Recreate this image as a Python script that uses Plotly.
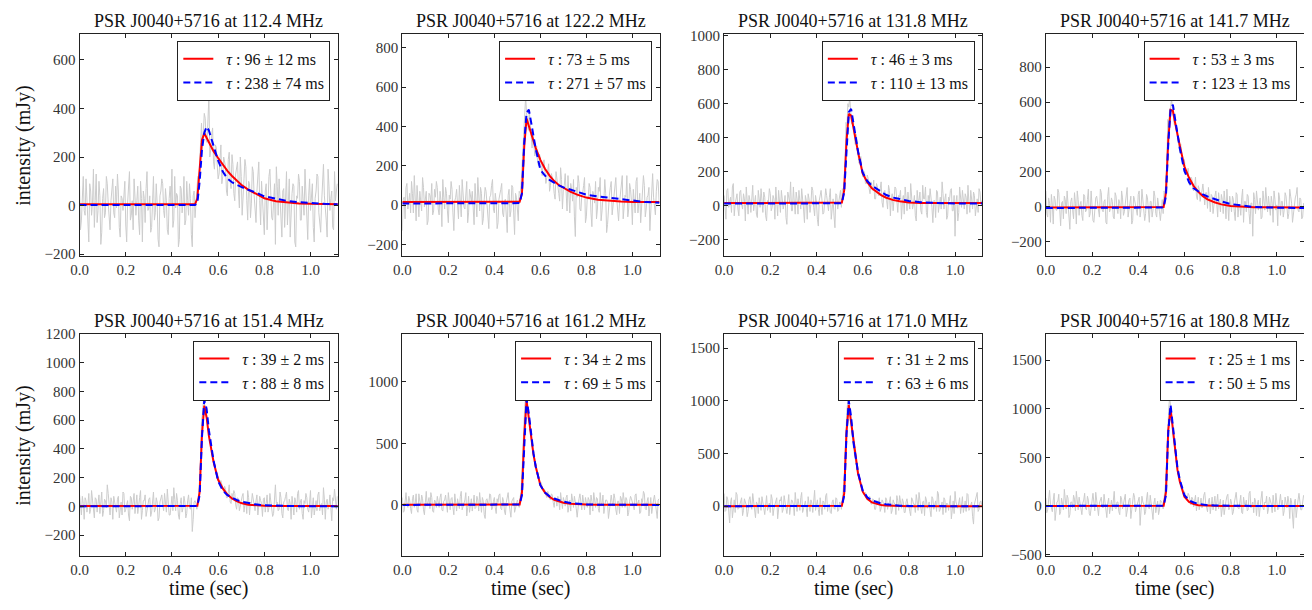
import plotly.graph_objects as go

# The page has an 8 px body margin: the figure is sized/positioned to compensate.
OFF = 8
W, H = 1312 - OFF, 610 - 2 * OFF

# sample grids: observed profiles come as two interleaved halves (a: i*8 ms, b: 4 + i*8 ms)
t_a = [round(i * 0.008, 3) for i in range(140)]
t_b = [round(0.004 + i * 0.008, 3) for i in range(140)]
tm = [0.0, 0.50, 0.51, 0.52, 0.53, 0.54, 0.55, 0.56, 0.57, 0.58, 0.60, 0.62, 0.64,
      0.66, 0.68, 0.70, 0.73, 0.76, 0.80, 0.85, 0.90, 0.95, 1.00, 1.06, 1.118]

freqs = ["112.4", "122.2", "131.8", "141.7", "151.4", "161.2", "171.0", "180.8"]
tau_red = ["96 ± 12", "73 ± 5", "46 ± 3", "53 ± 3", "39 ± 2", "34 ± 2", "31 ± 2", "25 ± 1"]
tau_blue = ["238 ± 74", "271 ± 57", "110 ± 13", "123 ± 13", "88 ± 8", "69 ± 5", "63 ± 6", "50 ± 5"]

data_112_a = [80, -60, 120, -40, 20, -150, 60, 10, -90, 130, -20, 40, -110, 70, -30, 90, -70, 20, 110, -50,
              -10, 60, -130, 30, 80, -80, 10, 140, -40, -100, 50, 20, -60, 100, -150, 30, 70, -20, 40, -90,
              120, -30, 10, -170, 60, 90, -50, 20, -120, 80, 150, -60, -10, 40, -140, 70, 10, -80, 100, -40,
              30, -170, 60, 20, 120, 210, 340, 300, 360, 260, 450, 230, 320, 150, 240, 110, 230, 90, 200, 160,
              40, 220, 70, 170, 20, 150, 60, 200, -40, 110, 160, -60, 90, 10, 140, -30, 60, 180, -80, 40,
              -120, 90, 30, 150, -50, 20, -160, 80, 110, -40, 60, -90, 140, 10, -130, 50, 80, -170, 30, 100,
              -60, 20, 150, -100, 40, -20, 90, -150, 60, 120, -70, 10, 170, -40, -130, 80, 30, -90, 140, 60]
data_112_b = [-100, 50, -20, 110, -130, 90, -40, 150, 20, -70, 100, -160, 30, -50, 120, 10, -100, 60, -30, 80,
              130, -90, 40, -20, 100, -150, 70, -60, 20, 110, -40, 80, -120, 30, 60, -70, 140, -10, -110, 50,
              -60, 90, -140, 40, 110, -20, 70, -100, 30, 10, -90, 120, 50, -170, 80, -30, 120, -60, 20, 90,
              -120, 40, -50, 90, 80, 260, 230, 380, 270, 330, 200, 290, 180, 250, 170, 130, 250, 120, 180, 60,
              190, 100, 210, 50, 130, 180, -10, 120, 70, 190, 20, 100, -50, 160, 40, -70, 130, 20, 100, -30,
              60, -100, 120, 10, -60, 90, 160, -40, 20, -130, 70, 30, -80, 110, -20, 90, -150, 40, 130, -60,
              80, -40, 20, -140, 110, 50, -90, 30, 130, -30, -110, 80, 40, -60, 150, -20, 60, -100, 20, 90]
data_122_a = [-130, 40, 90, -20, 60, 120, -40, 30, 100, -60, 20, 140, -10, 70, -80, 50, 110, -30, 40, 90,
              -50, 20, 130, -20, 60, -90, 30, 80, -130, 40, 10, 100, -60, 50, -20, 120, -40, 30, 70, -100,
              20, 140, -30, 60, -70, 90, 10, -120, 50, 130, -40, 20, -90, 70, 110, -60, 30, -140, 80, -30,
              90, -150, 40, -80, 60, 180, 400, 550, 420, 480, 330, 360, 250, 300, 200, 240, 150, 230, 110, 190,
              70, 160, 120, 30, 140, 60, 190, -20, 100, 50, 150, -40, 80, 130, -160, 40, 110, -30, 60, 140,
              -60, 30, 90, -110, 50, 120, -20, 70, -80, 40, 130, -140, 20, 90, -50, 60, 140, -30, 10, 100,
              -70, 50, 150, -20, 80, -100, 30, 120, -40, 60, 10, 150, -60, 40, 90, -30, 160, -10, 70, 120]
data_122_b = [30, -70, 110, 20, -40, 60, 150, -80, 40, 70, -30, 90, 30, -100, 60, 20, -50, 80, 120, -20,
              70, -110, 40, 90, -30, 50, 120, -40, 20, 80, -70, 40, 130, -10, 60, -90, 80, 20, -40, 110,
              -60, 50, 90, -100, 30, 70, -50, 40, 100, -20, 60, -120, 30, 80, -40, 20, -110, 50, -60, 100,
              -40, 60, -20, 70, 100, 260, 460, 470, 380, 420, 290, 310, 280, 220, 260, 190, 210, 170, 140, 210,
              100, 130, 60, 170, 90, 20, 130, 80, 160, -30, 60, 110, 20, -60, 90, 150, -20, 50, 100, -90,
              40, 110, -40, 70, 10, -70, 90, 140, -30, 20, 60, -100, 50, 120, -10, 80, 30, -80, 60, 150,
              -10, 40, -60, 110, 20, 80, -40, 140, 30, -90, 70, 100, -20, 50, -130, 90, 40, -50, 130, 20]
data_131_a = [60, -80, 100, 20, -40, 130, 10, 70, -60, 90, -20, 40, 110, -50, 30, 80, -30, 60, -70, 20,
              100, -40, 50, -90, 20, 70, -10, 40, 110, -60, 30, 90, -20, 60, -110, 40, 140, -30, 20, 80,
              -50, 30, 100, -20, 60, -80, 40, 10, 90, -60, 20, -120, 70, 30, -40, 100, -10, 50, -80, 40,
              -130, 60, 20, 90, 100, 150, 490, 600, 640, 480, 500, 360, 380, 250, 290, 170, 200, 130, 160, 70,
              120, 150, 40, 110, 60, 140, -10, 90, 30, 120, -60, 70, 20, 100, -40, 50, -80, 60, 110, -30,
              40, 130, -20, 60, -90, 30, 80, -50, 40, 110, -70, 20, 60, -100, 30, 90, -40, 50, 140, -20,
              70, -60, 30, 100, -30, -180, 60, -40, 40, 90, -20, 50, 120, -40, 30, 80, -60, 40, 100, 10]
data_131_b = [-30, 90, -10, 50, 110, -60, 40, -20, 80, 10, 70, -90, 30, 60, -40, 120, 20, -50, 90, -10,
              40, 80, -60, 30, 100, -30, 60, -80, 20, 90, -40, 50, 10, -70, 80, 20, -30, 110, -50, 40,
              90, -20, 50, -100, 30, 70, -40, 110, -10, 60, -80, 30, 90, -50, 20, 60, -30, 100, 10, -60,
              70, -20, 50, -10, 80, 260, 470, 580, 530, 520, 410, 420, 300, 260, 230, 190, 130, 180, 100, 140,
              90, 40, 130, 60, 100, 20, 80, 50, -20, 90, 40, -30, 110, 10, 60, 90, 20, -50, 50, 80,
              -20, 70, 10, -60, 90, 30, -30, 120, 40, -40, 60, 100, -10, 30, -70, 80, 20, -20, 70, 40,
              -80, 50, 90, -30, 60, 20, -90, 110, -10, 40, 70, -50, 20, 90, -20, 60, 10, -40, 80, 30]
data_141_a = [90, -60, 20, 70, -100, 40, -20, 80, -110, 30, 60, -40, 10, -130, 50, -70, 20, 90, -50, 30,
              -80, 60, -20, 100, -40, 10, -90, 50, 20, -60, 80, -30, 40, -100, 110, -10, 30, -70, 60, -40,
              20, 90, -50, 10, 110, -30, 60, -80, 40, -20, 70, -60, 100, 10, -40, 50, -90, 30, -20, 60,
              -60, 20, -80, 40, 90, 200, 500, 560, 620, 520, 470, 420, 340, 360, 250, 270, 190, 220, 120, 160,
              90, 170, 40, 100, 70, 130, 10, 80, 110, -30, 60, 20, 90, -60, 40, 70, -40, 30, 100, -80,
              20, 60, -30, 80, -60, 10, 50, -90, 30, 70, -40, 20, -170, 40, 90, -20, 50, -60, 30, 110,
              -30, 20, 60, -90, 40, 10, 80, -50, 30, -20, 60, -70, 100, 20, -40, 50, 110, -30, 40, -60]
data_141_b = [-40, 50, -90, 10, 60, -20, 100, -50, 20, -70, 40, 90, -60, 30, -20, 80, -100, 40, 10, -50,
              70, -30, 40, -60, 90, -80, 20, 60, -40, 100, -20, 30, -90, 60, -30, 50, -60, 80, -10, 40,
              -70, 50, -30, 80, -60, 20, -100, 60, 10, -50, 90, -20, 40, -80, 70, -10, 30, -60, 90, -40,
              50, -30, 20, -40, 70, 250, 470, 560, 580, 470, 450, 380, 310, 300, 230, 210, 180, 130, 170, 100,
              110, 60, 120, 30, 90, 40, 80, -10, 50, 70, -40, 60, 10, 80, -30, 40, 90, -70, 20, 60,
              -30, 40, -80, 70, 10, -50, 100, 30, -30, 60, -100, 20, 80, -40, 50, 10, -70, 90, -20, 40,
              60, -50, 20, 90, -20, -110, 50, 30, -60, 80, 10, -40, 60, -90, 30, 70, -20, 50, -70, 20]
data_151_a = [80, -60, 20, 60, -40, 90, -20, 30, -80, 50, 10, -50, 100, -30, 40, 150, -20, 60, -90, 30,
              -40, 70, 10, -60, 90, -20, 40, -100, 60, 20, -50, 80, -10, 110, -30, 40, -70, 20, 60, -40,
              100, -20, 30, -80, 50, 10, 90, -40, 20, -60, 70, 130, -30, 40, -90, 60, -10, 30, -50, 80,
              -20, -175, 30, 20, 40, 200, 600, 730, 680, 580, 500, 420, 340, 300, 230, 200, 160, 150, 100, 120,
              60, 150, 20, 60, 90, -20, 50, 10, 70, -40, 30, 110, -60, 20, 50, -30, 80, -10, 40, -70,
              60, 20, -40, 90, 10, -50, 150, 30, -20, 60, -80, 40, 100, -30, 20, 70, -60, 30, 90, -20,
              50, -90, 20, 60, -40, 110, 10, -60, 40, 80, -30, 20, 130, -90, 50, 10, -70, 60, 120, -20]
data_151_b = [-30, 70, -90, 40, 10, -50, 110, -20, 60, -40, 80, 20, -70, 50, -10, 90, -60, 30, 70, -20,
              50, -80, 30, 100, -40, 20, -60, 70, -20, 90, 10, -50, 60, -90, 40, 80, -30, 50, -70, 20,
              -40, 60, -100, 30, 80, -30, 40, 120, -60, 10, -30, 50, 90, -60, 20, -40, 70, -80, 40, -10,
              60, -90, 40, -20, 90, 330, 640, 720, 620, 540, 450, 370, 330, 250, 230, 170, 180, 110, 140, 60,
              100, 30, 90, 110, 10, 60, -30, 40, 90, 20, -50, 60, 30, 90, -20, 40, -60, 70, 20, 50,
              -40, 80, -10, 40, -70, 60, 20, -30, 100, -50, 30, 70, -20, 50, -90, 10, 60, -40, 110, 30,
              -50, 40, 90, -20, 30, -80, 60, 20, -30, 100, 10, -60, 50, 30, -20, 80, -100, 40, 10, 70]
data_161_a = [60, -50, 100, -20, 40, -70, 80, 10, -40, 90, -10, 50, -80, 110, 20, -30, 60, -60, 30, 70,
              -20, 90, -50, 40, 10, 100, -40, 60, -80, 20, 50, -30, 110, -10, 40, -90, 70, 20, -50, 80,
              -20, 40, 100, -60, 30, -110, 50, 10, 80, -30, 60, -70, 20, 90, -40, 30, -80, 60, 10, -100,
              40, -60, 20, 10, 60, 250, 700, 870, 800, 660, 540, 420, 360, 280, 230, 170, 140, 130, 80, 110,
              50, 90, 20, 60, -10, 40, 100, -30, 20, 60, -60, 40, 90, -20, 30, -100, 50, 10, 80, -40,
              20, 60, -80, 30, 100, -20, 50, -60, 10, 80, -30, 40, -110, 60, 20, 90, -40, 30, -70, 50,
              100, -20, 40, -60, 70, 10, -40, 90, 20, -70, 50, 110, -30, 30, -90, 60, 10, 80, -50, 40]
data_161_b = [-60, 30, 10, 70, -30, 50, -20, 90, -60, 30, 80, -40, 20, -10, 60, 100, -50, 40, -20, 10,
              60, -40, 30, 80, -60, 20, 50, -20, 90, -50, 10, 70, -40, 30, 100, -20, -60, 50, 20, -30,
              70, -50, 20, 60, -80, 40, 10, 90, -40, 30, -20, 50, 80, -30, 60, -50, 20, 100, -40, 30,
              60, -30, 40, -20, 110, 420, 800, 850, 700, 600, 470, 410, 310, 260, 190, 180, 110, 120, 60, 90,
              40, 80, -20, 50, 70, -40, 30, 60, -10, 80, 20, -50, 40, 70, -30, 20, 90, -40, 30, 60,
              -20, 40, 80, -50, 20, 60, -30, 100, 10, -70, 40, 20, -40, 80, -10, 50, -80, 30, 70, -20,
              20, 60, -90, 30, 50, -30, 80, -10, 40, -60, 20, 90, -40, 60, 10, -70, 40, 20, -110, 50]
data_171_a = [120, -40, 60, -160, 80, 20, -60, 110, -20, 40, -90, 70, 10, -50, 90, -30, 60, -110, 20, 80,
              -40, 50, -80, 100, 10, -60, 70, -20, 40, -120, 60, 90, -30, 20, -70, 110, -10, 50, -90, 30,
              70, -40, 130, -20, 50, -100, 20, 60, -60, 150, 10, -30, 80, -80, 40, 100, -50, 20, -70, 60,
              -30, 70, -40, 30, 60, 250, 800, 1000, 920, 720, 560, 440, 340, 270, 200, 150, 120, 100, 60, 90,
              20, 60, -30, 50, 80, -20, 40, -60, 60, 20, 90, -40, 30, -80, 50, 100, -20, 40, -60, 70,
              10, -90, 60, 20, 110, -40, 30, -70, 50, 90, -20, 40, -100, 70, 10, -50, 120, -30, 40, 80,
              -60, 20, 60, -120, 50, 140, -10, 30, -70, 90, 20, -50, 110, -20, 40, -170, 60, 130, -30, 50]
data_171_b = [-50, 90, -20, 40, -110, 60, 130, -30, 20, 80, -40, 30, -100, 60, 10, 120, -50, 40, -70, 20,
              90, -20, 60, -40, 30, 110, -90, 20, 80, -30, 50, -60, 100, -20, 40, -80, 60, 10, 130, -50,
              20, 80, -60, 40, -20, 90, -50, 30, 110, -40, 60, -90, 20, 50, -30, 120, 10, -60, 40, -20,
              80, -50, 40, -30, 120, 520, 920, 980, 820, 650, 500, 420, 290, 240, 180, 110, 130, 60, 90, 20,
              70, -30, 50, 20, -50, 60, 10, 80, -30, 40, -70, 60, 20, 100, -40, 30, 70, -60, 40, 10,
              -50, 80, 20, -60, 50, 130, -20, 40, -90, 60, 10, -40, 90, -30, 50, 140, -50, 20, -80, 60,
              30, -40, 100, 20, -70, 40, -20, 80, 10, -60, 50, 120, -40, 30, -100, 20, 70, -50, 40, 10]
data_180_a = [80, -40, 160, -20, 60, -150, 40, 120, -60, 20, 170, -30, 80, -90, 40, 110, -50, 20, 90, -70,
              30, 130, -40, 60, -100, 50, 10, 140, -60, 30, 90, -20, 50, -120, 80, 20, -50, 150, -30, 40,
              -90, 70, 10, 120, -40, 60, -130, 30, 90, -20, 50, -200, 100, 20, -60, 140, -30, 40, -140, 80,
              20, -90, 60, 30, 60, 280, 850, 1120, 960, 700, 520, 400, 310, 240, 170, 150, 80, 130, 40, 90,
              -10, 110, 30, -40, 80, 20, 140, -30, 50, -80, 90, 20, -50, 120, 40, -110, 60, 10, 100, -40,
              70, -90, 30, 140, -20, 60, -70, 90, 10, -50, 130, -20, 40, 80, -100, 60, 20, 150, -40, 30,
              -80, 90, 20, 110, -60, 40, -30, 120, 60, -50, 20, 100, -130, 40, -230, 70, 30, 130, -40, 60]
data_180_b = [-70, 100, 20, -60, 130, -30, 50, -90, 80, -40, 20, 110, -120, 40, -20, 70, 150, -40, 30, -90,
              60, -30, 100, -80, 20, 130, -50, 40, -100, 70, -10, 120, -40, 30, -80, 60, 110, -20, 40, -60,
              100, -30, 50, -110, 30, 80, -40, 130, -60, 20, 90, -30, 40, -90, 70, -20, 110, -50, 30, -70,
              50, -40, 40, -30, 130, 520, 1000, 1050, 860, 620, 470, 330, 290, 180, 150, 100, 60, 110, 10, 70,
              40, -50, 90, 20, -20, 110, 30, -60, 80, 10, -40, 100, 40, -30, 70, 20, -90, 50, 120, -20,
              30, -60, 90, 40, -30, 110, -80, 20, 60, -40, 150, 10, -70, 50, 20, -110, 80, -20, 40, 100,
              -30, 50, -70, 20, 130, -40, 60, 10, -100, 90, -20, 40, 80, -60, 30, -120, 60, 20, -40, 110]

red_112 = [5, 5, 30, 150, 270, 298, 280, 260, 242, 224, 196, 168, 143, 122, 103, 86, 66, 50, 30, 18, 12, 9, 7, 6, 5]
blue_112 = [2, 2, 10, 100, 230, 300, 325, 310, 278, 245, 185, 140, 112, 96, 86, 77, 65, 55, 38, 27, 19, 14, 10, 7, 5]
red_122 = [15, 15, 17, 60, 300, 440, 400, 365, 318, 290, 230, 185, 150, 122, 102, 87, 68, 53, 38, 27, 21, 18, 16, 15, 15]
blue_122 = [8, 8, 10, 60, 320, 470, 485, 420, 340, 285, 180, 150, 128, 112, 100, 90, 78, 66, 53, 44, 37, 28, 20, 15, 12]
red_131 = [15, 15, 18, 90, 380, 540, 530, 460, 380, 315, 190, 138, 102, 80, 62, 48, 34, 26, 19, 16, 15, 15, 15, 15, 15]
blue_131 = [12, 12, 14, 80, 360, 550, 570, 490, 400, 320, 195, 145, 118, 100, 80, 64, 48, 38, 28, 20, 16, 14, 13, 12, 12]
red_141 = [-5, -5, -2, 80, 380, 555, 550, 480, 410, 350, 230, 165, 118, 85, 60, 42, 25, 13, 4, -1, -3, -4, -5, -5, -5]
blue_141 = [-8, -8, -5, 60, 360, 560, 585, 500, 410, 335, 205, 140, 105, 85, 70, 58, 42, 30, 15, 5, -2, -5, -6, -7, -8]
red_151 = [3, 3, 5, 100, 500, 700, 620, 490, 390, 310, 185, 125, 82, 55, 36, 23, 12, 7, 4, 3, 3, 3, 3, 3, 3]
blue_151 = [0, 0, 3, 80, 480, 740, 680, 530, 410, 320, 175, 110, 78, 60, 45, 34, 22, 14, 8, 4, 2, 1, 1, 0, 0]
red_161 = [2, 2, 4, 100, 560, 850, 700, 540, 410, 310, 160, 100, 65, 42, 27, 18, 10, 5, 3, 2, 2, 2, 2, 2, 2]
blue_161 = [0, 0, 3, 80, 520, 860, 740, 560, 420, 310, 160, 100, 70, 52, 38, 27, 16, 9, 4, 2, 1, 1, 0, 0, 0]
red_171 = [0, 0, 3, 120, 700, 960, 800, 590, 430, 310, 140, 70, 36, 20, 11, 6, 3, 1, 0, 0, 0, 0, 0, 0, 0]
blue_171 = [0, 0, 2, 100, 680, 1000, 850, 610, 440, 320, 150, 85, 55, 38, 26, 18, 10, 5, 2, 0, 0, 0, 0, 0, 0]
red_180 = [0, 0, 3, 140, 780, 1000, 780, 540, 370, 250, 95, 42, 18, 8, 4, 2, 1, 0, 0, 0, 0, 0, 0, 0, 0]
blue_180 = [0, 0, 2, 110, 760, 1040, 820, 560, 390, 270, 110, 58, 35, 22, 14, 8, 4, 2, 0, 0, 0, 0, 0, 0, 0]

data_a_all = [data_112_a, data_122_a, data_131_a, data_141_a, data_151_a, data_161_a, data_171_a, data_180_a]
data_b_all = [data_112_b, data_122_b, data_131_b, data_141_b, data_151_b, data_161_b, data_171_b, data_180_b]
red_all = [red_112, red_122, red_131, red_141, red_151, red_161, red_171, red_180]
blue_all = [blue_112, blue_122, blue_131, blue_141, blue_151, blue_161, blue_171, blue_180]

y_ranges = [[-207, 707], [-258, 870], [-295, 1010], [-282, 990],
            [-345, 1200], [-415, 1390], [-473, 1636], [-515, 1770]]
y_dticks = [200, 200, 200, 200, 200, 500, 500, 500]

# layout geometry (page pixels)
col_px = [(71, 331), (396, 655), (720, 980), (1044, 1304)]
row_px = [(26.5, 254), (334, 562)]


def fx(px):
    return (px - OFF) / W


def fy(py):
    return 1 - (py - OFF) / H


def interleave(a, b):
    out = []
    for u, v in zip(a, b):
        out.extend([u, v])
    return out


t_obs = interleave(t_a, t_b)

FONT = "Liberation Serif"
AXC = "#222222"

fig = go.Figure()
layout = dict(
    width=W, height=H, margin=dict(l=0, r=0, t=0, b=0),
    paper_bgcolor="white", plot_bgcolor="white",
    font=dict(family=FONT, color="#222222"),
    annotations=[],
)

for k in range(8):
    r, c = divmod(k, 4)
    x0, x1 = col_px[c]
    ytop, ybot = row_px[r]
    sfx = "" if k == 0 else str(k + 1)
    xa, ya = "x" + sfx, "y" + sfx
    lg = "legend" + sfx

    fig.add_trace(go.Scatter(x=t_obs, y=interleave(data_a_all[k], data_b_all[k]), mode="lines",
                             line=dict(color="#cccccc", width=1),
                             xaxis=xa, yaxis=ya, showlegend=False, hoverinfo="skip"))
    fig.add_trace(go.Scatter(x=tm, y=red_all[k], mode="lines",
                             line=dict(color="#ff0000", width=2),
                             name="\u2002<i>τ</i> : " + tau_red[k] + " ms",
                             xaxis=xa, yaxis=ya, legend=lg))
    fig.add_trace(go.Scatter(x=tm, y=blue_all[k], mode="lines",
                             line=dict(color="#0000ff", width=2, dash="7px,4px"),
                             name="\u2002<i>τ</i> : " + tau_blue[k] + " ms",
                             xaxis=xa, yaxis=ya, legend=lg))

    axis_common = dict(showline=True, linecolor=AXC, linewidth=1, mirror="ticks",
                       ticks="inside", ticklen=4, tickcolor=AXC, showgrid=False,
                       zeroline=False, tickfont=dict(family=FONT, size=15, color="#333333"))
    layout["xaxis" + sfx] = dict(domain=[fx(x0), fx(x1)], anchor=ya, range=[0, 1.118],
                                 tick0=0, dtick=0.2, tickformat=".1f", **axis_common)
    layout["yaxis" + sfx] = dict(domain=[fy(ybot), fy(ytop)], anchor=xa,
                                 range=y_ranges[k], tick0=0, dtick=y_dticks[k], **axis_common)
    layout[lg] = dict(x=fx(x1 - 7.5), y=fy(ytop + 7), xanchor="right", yanchor="top",
                      bgcolor="white", bordercolor="#222222", borderwidth=1,
                      font=dict(family=FONT, size=16, color="#111111"),
                      itemwidth=30)

    layout["annotations"].append(dict(
        text="PSR J0040+5716 at " + freqs[k] + " MHz", xref="paper", yref="paper",
        x=fx((x0 + x1) / 2), y=fy(ytop), xanchor="center", yanchor="bottom",
        yshift=1, showarrow=False, font=dict(family=FONT, size=18, color="#111111")))

    if c == 0:
        layout["annotations"].append(dict(
            text="intensity (mJy)", xref="paper", yref="paper",
            x=fx(15), y=fy((ytop + ybot) / 2), xanchor="center", yanchor="middle",
            textangle=-90, showarrow=False, font=dict(family=FONT, size=20, color="#111111")))
    if r == 1:
        layout["annotations"].append(dict(
            text="time (sec)", xref="paper", yref="paper",
            x=fx((x0 + x1) / 2), y=fy(595), xanchor="center", yanchor="middle",
            showarrow=False, font=dict(family=FONT, size=20, color="#111111")))

fig.update_layout(**layout)
fig.write_html("out.html")
